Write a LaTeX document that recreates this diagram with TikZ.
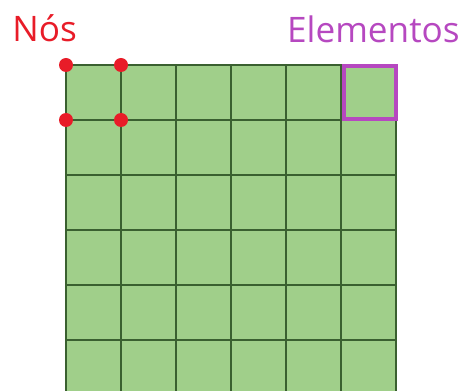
\documentclass[tikz,border=0pt]{standalone}
\usepackage{fontspec}
\setmainfont{Open Sans}
\usepackage{xcolor}
\usepackage{tikz}
\usetikzlibrary{positioning}
\definecolor{meshgreen}{RGB}{160,207,138}
\definecolor{meshline}{RGB}{58,96,48}
\definecolor{nodered}{RGB}{232,28,40}
\definecolor{elempurple}{RGB}{182,72,192}

\begin{document}
\begin{tikzpicture}[x=0.02cm, y=-0.02cm]
  \useasboundingbox (0,0) rectangle (462,391);
  % Mesh: 6 columns, rows cut at the bottom edge
  \fill[meshgreen] (66,65) rectangle (396,391);
  \foreach \x in {66,121,...,396}
    \draw[meshline, line width=0.8pt] (\x,65) -- (\x,391);
  \foreach \y in {65,120,...,340}
    \draw[meshline, line width=0.8pt] (66,\y) -- (396,\y);
  % One element highlighted
  \draw[elempurple, line width=2.3pt] (344,66) rectangle (396,119);
  % Nodes of the first element
  \foreach \x in {66,121}
    \foreach \y in {65,120}
      \fill[nodered] (\x,\y) circle (7);
  % Labels
  \node[nodered, font=\fontsize{20}{24}\selectfont, anchor=base west, inner sep=0pt] (nos) at (12,42) {Nós};
  \node[elempurple, font=\fontsize{20}{24}\selectfont, anchor=base east, inner sep=0pt] (elementos) at (460,43) {Elementos};
\end{tikzpicture}
\end{document}
